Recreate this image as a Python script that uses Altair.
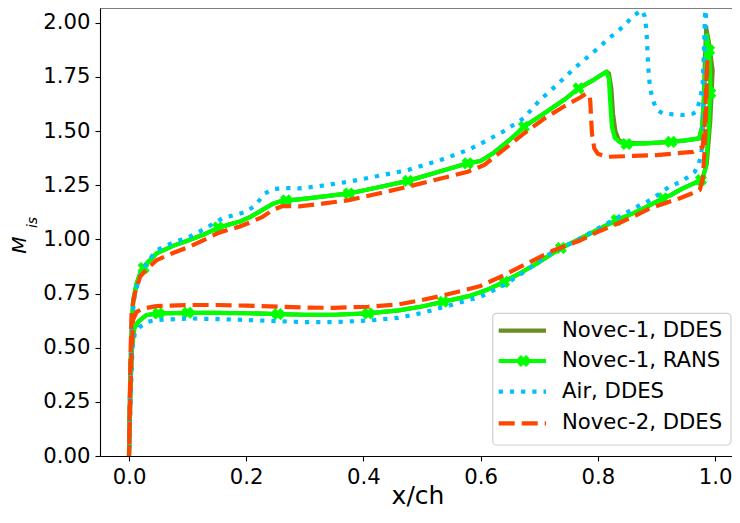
import altair as alt
import pandas as pd

# ---------------- data ----------------
# Novec-1, RANS  (path: trailing-edge spike -> pressure side -> LE -> suction side -> TE)
rans_x = [0.986, 0.990, 0.992, 0.989, 0.984, 0.978,
          0.965, 0.945, 0.925, 0.911, 0.880, 0.860, 0.832, 0.800, 0.770, 0.737, 0.700, 0.670,
          0.640, 0.610, 0.580, 0.536, 0.500, 0.460, 0.408, 0.350, 0.300, 0.254, 0.200, 0.150,
          0.100, 0.050, 0.030, 0.016, 0.009, 0.005, 0.003, 0.0015, 0.0,
          0.001, 0.003, 0.005, 0.0073, 0.013, 0.021, 0.033, 0.047, 0.075, 0.103, 0.130, 0.151,
          0.170, 0.188, 0.208, 0.227, 0.245, 0.261, 0.290, 0.330, 0.375, 0.420, 0.476, 0.520,
          0.578, 0.600, 0.620, 0.650, 0.674, 0.710, 0.742, 0.767, 0.795, 0.815, 0.819, 0.821,
          0.824, 0.829, 0.838, 0.849, 0.880, 0.925, 0.950, 0.973, 0.978, 0.981, 0.984, 0.986]
rans_m = [1.940, 1.870, 1.700, 1.500, 1.330, 1.275,
          1.260, 1.235, 1.205, 1.189, 1.145, 1.120, 1.089, 1.045, 1.003, 0.960, 0.895, 0.848,
          0.804, 0.766, 0.738, 0.712, 0.690, 0.672, 0.658, 0.652, 0.652, 0.655, 0.659, 0.661,
          0.661, 0.658, 0.651, 0.620, 0.590, 0.500, 0.350, 0.180, 0.0,
          0.200, 0.450, 0.620, 0.720, 0.797, 0.858, 0.897, 0.935, 0.970, 0.997, 1.025, 1.052,
          1.068, 1.081, 1.105, 1.135, 1.163, 1.178, 1.185, 1.197, 1.212, 1.237, 1.270, 1.305,
          1.351, 1.362, 1.395, 1.460, 1.520, 1.585, 1.643, 1.697, 1.740, 1.773, 1.740, 1.643,
          1.520, 1.468, 1.447, 1.440, 1.443, 1.450, 1.457, 1.466, 1.520, 1.650, 1.800, 1.940]

# RANS marker positions
mark_x = [0.025, 0.152, 0.268, 0.375, 0.476, 0.578, 0.674, 0.767, 0.849, 0.925, 0.990, 0.992,
          0.050, 0.100, 0.254, 0.408, 0.536, 0.640, 0.737, 0.832, 0.911, 0.976]
mark_m = [0.868, 1.055, 1.180, 1.212, 1.270, 1.351, 1.520, 1.697, 1.440, 1.450, 1.873, 1.675,
          0.658, 0.661, 0.655, 0.658, 0.712, 0.804, 0.960, 1.089, 1.189, 1.274]

# Novec-1, DDES
ddes1_x = [0.985, 0.989, 0.996, 0.992, 0.986, 0.978,
           0.965, 0.945, 0.925, 0.911, 0.880, 0.860, 0.832, 0.800, 0.770, 0.737, 0.700, 0.670,
           0.640, 0.610, 0.580, 0.536, 0.500, 0.460, 0.408, 0.350, 0.300, 0.254, 0.200, 0.150,
           0.100, 0.050, 0.030, 0.016, 0.009, 0.005, 0.003, 0.0015, 0.0,
           0.001, 0.003, 0.005, 0.0073, 0.013, 0.021, 0.033, 0.047, 0.075, 0.103, 0.130, 0.151,
           0.170, 0.188, 0.208, 0.227, 0.245, 0.261, 0.290, 0.330, 0.375, 0.420, 0.476, 0.520,
           0.578, 0.600, 0.620, 0.650, 0.674, 0.710, 0.742, 0.767, 0.795, 0.815, 0.819, 0.823,
           0.826, 0.830, 0.836, 0.845, 0.880, 0.925, 0.950, 0.973, 0.978, 0.981, 0.983, 0.985]
ddes1_m = [1.975, 1.920, 1.780, 1.550, 1.350, 1.275,
           1.260, 1.235, 1.205, 1.189, 1.145, 1.120, 1.089, 1.045, 1.003, 0.960, 0.895, 0.848,
           0.804, 0.766, 0.738, 0.712, 0.690, 0.672, 0.658, 0.652, 0.652, 0.655, 0.659, 0.661,
           0.661, 0.658, 0.651, 0.620, 0.590, 0.500, 0.350, 0.180, 0.0,
           0.200, 0.450, 0.620, 0.720, 0.797, 0.858, 0.897, 0.935, 0.970, 0.997, 1.025, 1.052,
           1.068, 1.081, 1.105, 1.135, 1.163, 1.178, 1.185, 1.197, 1.212, 1.237, 1.270, 1.305,
           1.351, 1.362, 1.395, 1.460, 1.520, 1.585, 1.643, 1.697, 1.740, 1.775, 1.765, 1.700,
           1.580, 1.500, 1.458, 1.445, 1.443, 1.450, 1.457, 1.466, 1.520, 1.650, 1.850, 1.975]

# Air, DDES
air_x = [0.990, 0.984, 0.981, 0.979, 0.976, 0.972, 0.965, 0.959, 0.942, 0.922, 0.906, 0.889,
         0.872, 0.850, 0.820, 0.790, 0.760, 0.719, 0.680, 0.640, 0.600, 0.539, 0.500, 0.460,
         0.408, 0.350, 0.300, 0.256, 0.200, 0.150, 0.103, 0.047, 0.033, 0.019, 0.010, 0.006,
         0.004, 0.002, 0.0,
         0.001, 0.003, 0.006, 0.010, 0.019, 0.030, 0.047, 0.075, 0.103, 0.130, 0.160, 0.200,
         0.216, 0.231, 0.245, 0.268, 0.290, 0.330, 0.375, 0.420, 0.476, 0.530, 0.578, 0.606,
         0.640, 0.674, 0.700, 0.731, 0.760, 0.795, 0.820, 0.843, 0.860, 0.875, 0.880, 0.883,
         0.886, 0.889, 0.894, 0.900, 0.911, 0.945, 0.962, 0.968, 0.975, 0.979, 0.982, 0.986]
air_m = [2.300, 2.000, 1.700, 1.450, 1.390, 1.345, 1.310, 1.297, 1.266, 1.243, 1.212, 1.181,
         1.158, 1.125, 1.080, 1.035, 0.990, 0.935, 0.860, 0.789, 0.735, 0.689, 0.660, 0.638,
         0.625, 0.618, 0.618, 0.622, 0.628, 0.632, 0.635, 0.628, 0.620, 0.597, 0.566, 0.500,
         0.350, 0.180, 0.0,
         0.200, 0.450, 0.650, 0.750, 0.830, 0.890, 0.950, 0.985, 1.012, 1.050, 1.098, 1.127,
         1.158, 1.210, 1.232, 1.237, 1.235, 1.248, 1.266, 1.290, 1.320, 1.365, 1.412, 1.450,
         1.500, 1.560, 1.640, 1.715, 1.790, 1.870, 1.930, 1.981, 2.030, 2.058, 2.030, 1.966,
         1.796, 1.700, 1.643, 1.600, 1.581, 1.574, 1.580, 1.589, 1.650, 1.720, 1.950, 2.300]

# Novec-2, DDES
nov2_x = [0.987, 0.985, 0.982, 0.979, 0.974, 0.965, 0.956, 0.940, 0.922, 0.889, 0.866, 0.840,
          0.800, 0.770, 0.725, 0.680, 0.640, 0.600, 0.539, 0.500, 0.460, 0.408, 0.350, 0.300,
          0.256, 0.200, 0.150, 0.103, 0.047, 0.024, 0.013, 0.007, 0.004, 0.002, 0.0005, 0.0,
          0.001, 0.0025, 0.0045, 0.010, 0.019, 0.030, 0.047, 0.075, 0.103, 0.130, 0.151, 0.170,
          0.188, 0.208, 0.228, 0.245, 0.262, 0.290, 0.330, 0.375, 0.420, 0.476, 0.520, 0.578,
          0.606, 0.640, 0.674, 0.710, 0.740, 0.770, 0.781, 0.785, 0.787, 0.790, 0.794, 0.800,
          0.815, 0.860, 0.900, 0.962, 0.979, 0.983, 0.985, 0.987]
nov2_m = [1.827, 1.600, 1.400, 1.280, 1.228, 1.217, 1.207, 1.190, 1.174, 1.143, 1.112, 1.080,
          1.035, 0.995, 0.950, 0.890, 0.835, 0.785, 0.743, 0.720, 0.700, 0.689, 0.684, 0.685,
          0.689, 0.694, 0.697, 0.697, 0.692, 0.681, 0.665, 0.630, 0.450, 0.250, 0.050, 0.0,
          0.200, 0.450, 0.674, 0.751, 0.828, 0.862, 0.904, 0.937, 0.966, 1.000, 1.028, 1.045,
          1.058, 1.080, 1.104, 1.135, 1.154, 1.152, 1.165, 1.181, 1.208, 1.243, 1.273, 1.312,
          1.343, 1.415, 1.489, 1.560, 1.610, 1.655, 1.674, 1.665, 1.643, 1.489, 1.420, 1.395,
          1.381, 1.385, 1.389, 1.404, 1.427, 1.550, 1.720, 1.827]

legend_labels = ["Novec-1, DDES", "Novec-1, RANS", "Air, DDES", "Novec-2, DDES"]
x_ticks = [0.0, 0.2, 0.4, 0.6, 0.8, 1.0]
y_ticks = [0.0, 0.25, 0.5, 0.75, 1.0, 1.25, 1.5, 1.75, 2.0]

# ---------------- layout ----------------
W, H = 632, 448
XMIN, XMAX = -0.0495, 1.029
YMIN, YMAX = 0.0, 2.068
FONT = "DejaVu Sans"
FS = 21.2

OLIVE, LIME, SKY, ORANGE = "#6b8e23", "#00ff00", "#00bfff", "#ff4500"

xscale = alt.Scale(domain=[XMIN, XMAX], nice=False, zero=False)
yscale = alt.Scale(domain=[YMIN, YMAX], nice=False, zero=False)
xaxis = alt.Axis(values=x_ticks, format=".1f", title=None, grid=False)
yaxis = alt.Axis(values=y_ticks, format=".2f", title=None, grid=False)


def frame(xs, ms):
    return pd.DataFrame({"x": xs, "M": ms, "o": list(range(len(xs)))})


def curve(xs, ms, color, dash=None, cap="square"):
    kw = dict(color=color, strokeWidth=4.2, clip=True, strokeCap=cap, strokeJoin="round")
    if dash:
        kw["strokeDash"] = dash
    return alt.Chart(frame(xs, ms)).mark_line(**kw).encode(
        x=alt.X("x:Q", scale=xscale, axis=xaxis),
        y=alt.Y("M:Q", scale=yscale, axis=yaxis),
        order="o:Q",
    )


one = pd.DataFrame({"k": [0]})

layers = [
    curve(ddes1_x, ddes1_m, OLIVE),
    curve(rans_x, rans_m, LIME),
    alt.Chart(frame(mark_x, mark_m)).mark_point(
        shape="cross", filled=True, size=150, angle=45, color=LIME, opacity=1, clip=True
    ).encode(
        x=alt.X("x:Q", scale=xscale, axis=xaxis),
        y=alt.Y("M:Q", scale=yscale, axis=yaxis),
    ),
    curve(air_x, air_m, SKY, dash=[4.2, 7.0], cap="butt"),
    curve(nov2_x, nov2_m, ORANGE, dash=[16, 7], cap="butt"),
    # top spine
    alt.Chart(one).mark_rule(color="#000000", strokeWidth=1.1).encode(
        x=alt.value(0), x2=alt.value(W), y=alt.value(0)
    ),
]

# legend (drawn by hand to show line + marker symbols)
LX0, LX1, LY0, LY1 = 392.7, 631, 305.3, 437
rows = [322.7, 353.0, 383.7, 415.3]
layers.append(
    alt.Chart(one).mark_rect(
        fill="white", stroke="#cccccc", strokeWidth=1.2, cornerRadius=4, opacity=0.9
    ).encode(x=alt.value(LX0), x2=alt.value(LX1), y=alt.value(LY0), y2=alt.value(LY1))
)
sym = [
    dict(color=OLIVE),
    dict(color=LIME),
    dict(color=SKY, strokeDash=[4.2, 7.0], strokeCap="butt"),
    dict(color=ORANGE, strokeDash=[16, 7], strokeCap="butt"),
]
for lab, yy, st in zip(legend_labels, rows, sym):
    layers.append(
        alt.Chart(one).mark_rule(strokeWidth=4.2, **st).encode(
            x=alt.value(398.7), x2=alt.value(446), y=alt.value(yy)
        )
    )
    layers.append(
        alt.Chart(one).mark_text(
            text=lab, font=FONT, fontSize=FS, align="left", baseline="middle", color="#000000"
        ).encode(x=alt.value(462), y=alt.value(yy))
    )
layers.append(
    alt.Chart(one).mark_point(
        shape="cross", filled=True, size=150, angle=45, color=LIME, opacity=1
    ).encode(x=alt.value(423.5), y=alt.value(rows[1]))
)

# axis titles
layers.append(
    alt.Chart(one).mark_text(
        text="x/ch", font=FONT, fontSize=25, align="center", baseline="middle", color="#000000"
    ).encode(x=alt.value(318), y=alt.value(488))
)
# y title  M_is : rotated, subscript placed with offsets in the rotated frame
layers.append(
    alt.Chart(one).mark_text(
        text="M", font=FONT, fontSize=20, fontStyle="italic", angle=270,
        align="center", baseline="middle", color="#000000"
    ).encode(x=alt.value(-80), y=alt.value(237))
)
layers.append(
    alt.Chart(one).mark_text(
        text="is", font=FONT, fontSize=14, fontStyle="italic", angle=270,
        align="center", baseline="middle", color="#000000", dx=22.5, dy=13
    ).encode(x=alt.value(-80), y=alt.value(237))
)

chart = (
    alt.layer(*layers)
    .properties(
        width=W,
        height=H,
        autosize=alt.AutoSizeParams(type="none"),
        padding={"left": 92, "top": 0, "right": 0, "bottom": 59},
    )
    .configure_view(stroke=None)
    .configure_axis(
        domainColor="#000000",
        domainWidth=1.1,
        tickColor="#000000",
        tickWidth=1.1,
        tickSize=5,
        labelFont=FONT,
        labelFontSize=FS,
        labelColor="#000000",
        labelPadding=5,
        grid=False,
    )
)

chart.save("out.html", embed_options={"renderer": "svg", "actions": False})
